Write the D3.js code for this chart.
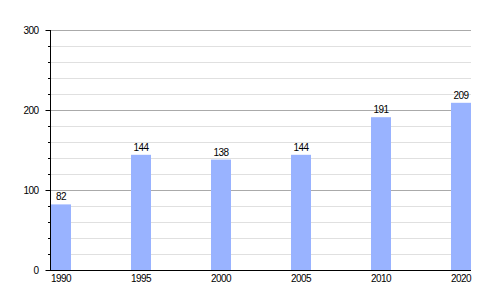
<!doctype html><html><head></head><body style="margin:0"><script src='https://d3js.org/d3.v7.min.js'></script>

<style>
	svg text {
		fill: black;
		font: 10px "Liberation Sans", sans-serif;
		letter-spacing: -0.6px;
	}
</style>

<script>
  var years = ["1990", "1995", "2000", "2005", "2010", "2020"];
  var values = [82, 144, 138, 144, 191, 209];
  var majorTicks = [0, 100, 200, 300];
  var minorTicks = [20, 40, 60, 80, 120, 140, 160, 180, 220, 240, 260, 280];

  var width = 500, height = 300;
  var svg = d3.select("body").append("svg")
    .attr("width", width)
    .attr("height", height);

  var x = d3.scaleBand().domain(years).range([51, 471]).paddingInner(0.75).paddingOuter(0);
  var y = d3.scaleLinear().domain([0, 300]).range([270, 30]);

  // minor grid
  svg.selectAll(".minor").data(minorTicks).enter().append("line")
    .attr("x1", 50).attr("x2", 471)
    .attr("y1", function(d) { return Math.round(y(d)) + 0.5; })
    .attr("y2", function(d) { return Math.round(y(d)) + 0.5; })
    .attr("stroke", "#e0e0e0");

  // major grid
  svg.selectAll(".major").data(majorTicks.slice(1)).enter().append("line")
    .attr("x1", 50).attr("x2", 471)
    .attr("y1", function(d) { return Math.round(y(d)) + 0.5; })
    .attr("y2", function(d) { return Math.round(y(d)) + 0.5; })
    .attr("stroke", "#aaaaaa");

  // bars
  svg.selectAll(".bar").data(values).enter().append("rect")
    .attr("x", function(d, i) { return x(years[i]); })
    .attr("y", function(d) { return y(d); })
    .attr("width", x.bandwidth())
    .attr("height", function(d) { return y(0) - y(d); })
    .attr("fill", "#99b3ff");

  // value labels
  svg.selectAll(".val").data(values).enter().append("text")
    .attr("x", function(d, i) { return x(years[i]) + x.bandwidth() / 2; })
    .attr("y", function(d) { return y(d) - 4; })
    .attr("text-anchor", "middle")
    .text(function(d) { return d; });

  // y axis
  var yAxis = d3.axisLeft(y).tickValues(majorTicks).tickSize(5).tickPadding(7);
  var ay = svg.append("g").attr("transform", "translate(50.5,0)").call(yAxis);
  ay.select(".domain").remove();
  ay.selectAll(".tick line").attr("stroke", "black");
  ay.selectAll("text").attr("font-size", null).attr("font-family", null);

  svg.selectAll(".mt").data(minorTicks).enter().append("line")
    .attr("x1", 48).attr("x2", 50)
    .attr("y1", function(d) { return Math.round(y(d)) + 0.5; })
    .attr("y2", function(d) { return Math.round(y(d)) + 0.5; })
    .attr("stroke", "black");

  svg.append("line").attr("x1", 50.5).attr("x2", 50.5).attr("y1", 30).attr("y2", 271)
    .attr("stroke", "black");
  svg.append("line").attr("x1", 50).attr("x2", 471).attr("y1", 270.5).attr("y2", 270.5)
    .attr("stroke", "black");

  // x labels
  svg.selectAll(".xl").data(years).enter().append("text")
    .attr("x", function(d) { return x(d) + x.bandwidth() / 2; })
    .attr("y", 282)
    .attr("text-anchor", "middle")
    .text(function(d) { return d; });
</script></body></html>
